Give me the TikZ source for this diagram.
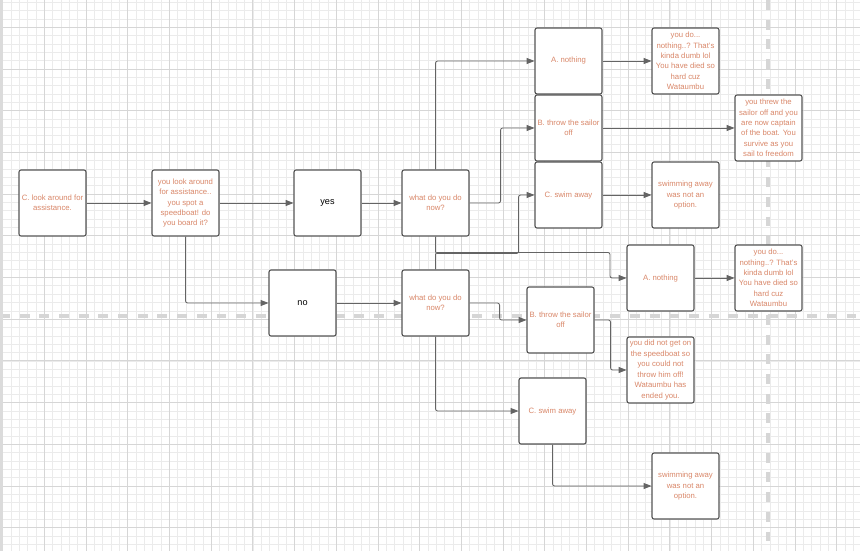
\documentclass[tikz,border=0pt]{standalone}
\usepackage{fontspec}
\setmainfont{Liberation Sans}
\usetikzlibrary{arrows.meta}
\definecolor{txtorange}{RGB}{217,135,105}
\definecolor{boxgray}{RGB}{85,85,85}
\definecolor{linegray}{RGB}{100,100,100}

\begin{document}
\begin{tikzpicture}[x=0.025cm, y=-0.025cm,
  box/.style={draw=boxgray, line width=0.8pt, fill=white, rounded corners=1.5pt,
    minimum width=1.675cm, minimum height=1.65cm, inner sep=0pt, align=center,
    text=txtorange, font=\fontsize{5.5}{7.4}\selectfont},
  plainbox/.style={box, text=black, font=\fontsize{6.5}{8}\selectfont},
  link/.style={draw=linegray, line width=0.6pt, rounded corners=1.5pt,
    -{Triangle[length=5.5pt, width=4.2pt]}},
  minorgrid/.style={draw=black!8, line width=0.5pt},
  majorgrid/.style={draw=black!16, line width=0.6pt},
  guide/.style={draw=black!16, line width=2.2pt, dash pattern=on 7pt off 7pt}]

\useasboundingbox (0,0) rectangle (860,551);
\fill[white] (0,0) rectangle (860,551);

% background grid
\foreach \k in {0,...,103}
  \draw[minorgrid] ({2.7+8.34*\k},0) -- ({2.7+8.34*\k},551);
\foreach \k in {0,...,66}
  \draw[minorgrid] (0,{2.28+8.34*\k}) -- (860,{2.28+8.34*\k});
\foreach \k in {0,...,20}
  \draw[majorgrid] ({2.7+41.7*\k},0) -- ({2.7+41.7*\k},551);
\foreach \k in {0,...,12}
  \draw[majorgrid] (0,{27.3+41.7*\k}) -- (860,{27.3+41.7*\k});
\draw[guide] (0,316) -- (860,316);
\draw[guide] (768,0) -- (768,551);
\fill[black!14] (0,0) rectangle (3,551);

% Start
\node[box] (look)  at (52.5,203)  {C. look around for\\assistance.};
\node[box] (board) at (185.5,203) {you look around\\for assistance..\\you spot a\\speedboat! do\\you board it?};
\node[plainbox] (yes) at (327.5,203) {yes};
\node[plainbox] (no)  at (302.5,303) {no};
\node[box] (what1) at (435.5,203) {what do you do\\now?};
\node[box] (what2) at (435.5,303) {what do you do\\now?};

% Branch: yes
\node[box] (A1) at (568.5,61)  {A. nothing};
\node[box] (B1) at (568.5,128) {B. throw the sailor\\off};
\node[box] (C1) at (568.5,195) {C. swim away};
\node[box] (rA1) at (685.5,61)  {you do...\\nothing..? That's\\kinda dumb lol\\You have died so\\hard cuz\\Wataumbu};
\node[box] (rB1) at (768.5,128) {you threw the\\sailor off and you\\are now captain\\of the boat. You\\survive as you\\sail to freedom};
\node[box] (rC1) at (685.5,195) {swimming away\\was not an\\option.};

% Branch: no
\node[box] (A2) at (660.5,278) {A. nothing};
\node[box] (B2) at (560.5,320) {B. throw the sailor\\off};
\node[box] (C2) at (552.5,411) {C. swim away};
\node[box] (rA2) at (768.5,278) {you do...\\nothing..? That's\\kinda dumb lol\\You have died so\\hard cuz\\Wataumbu};
\node[box] (rB2) at (660.5,370) {you did not get on\\the speedboat so\\you could not\\throw him off!\\Wataumbu has\\ended you.};
\node[box] (rC2) at (685.5,486) {swimming away\\was not an\\option.};

% Connectors
\draw[link] (look) -- (board);
\draw[link] (board) -- (yes);
\draw[link] (board.south) |- (no.west);
\draw[link] (yes) -- (what1);
\draw[link] (no) -- (what2);
\draw[link] (what1.north) |- (A1.west);
\draw[link] (what1.east) -- ++(31,0) |- (B1.west);
\draw[link] (what1.south) -- ++(0,17) -- ++(83,0) |- (C1.west);
\draw[link] (what2.north) -- ++(0,-17) -- ++(174.5,0) |- (A2.west);
\draw[link] (what2.east) -- ++(30,0) |- (B2.west);
\draw[link] (what2.south) |- (C2.west);
\draw[link] (A1) -- (rA1);
\draw[link] (B1) -- (rB1);
\draw[link] (C1) -- (rC1);
\draw[link] (A2) -- (rA2);
\draw[link] (B2.east) -- ++(16,0) |- (rB2.west);
\draw[link] (C2.south) |- (rC2.west);

\end{tikzpicture}
\end{document}
